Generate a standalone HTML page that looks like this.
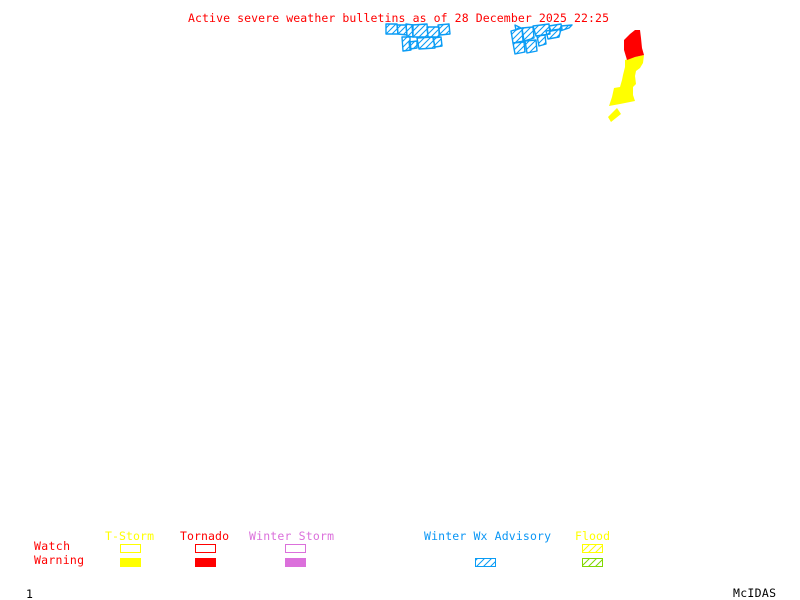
<!DOCTYPE html>
<html>
<head>
<meta charset="utf-8">
<style>
html,body{margin:0;padding:0;background:#fff;width:800px;height:600px;overflow:hidden}
svg{display:block}
text{font-family:"DejaVu Sans Mono","Liberation Mono",monospace;font-size:11.5px}
</style>
</head>
<body>
<svg width="800" height="600" viewBox="0 0 800 600" xmlns="http://www.w3.org/2000/svg">
<defs>
<pattern id="hb" width="6" height="6" patternUnits="userSpaceOnUse"><path d="M-1 7L7 -1M-1 1L1 -1M5 7L7 5" stroke="#0a9cf5" stroke-width="1.1" fill="none"/></pattern>
<pattern id="hl" width="7" height="7" patternUnits="userSpaceOnUse"><path d="M-1 8L8 -1M-1 1L1 -1M6 8L8 6" stroke="#0a9cf5" stroke-width="1" fill="none"/></pattern>
<pattern id="hy" width="7" height="7" patternUnits="userSpaceOnUse"><path d="M-1 8L8 -1M-1 1L1 -1M6 8L8 6" stroke="#ffff00" stroke-width="1" fill="none"/></pattern>
<pattern id="hg" width="7" height="7" patternUnits="userSpaceOnUse"><path d="M-1 8L8 -1M-1 1L1 -1M6 8L8 6" stroke="#80d800" stroke-width="1" fill="none"/></pattern>
</defs>
<rect width="800" height="600" fill="#fff"/>

<text x="188" y="22" fill="#ff0000" textLength="421" lengthAdjust="spacing">Active severe weather bulletins as of 28 December 2025 22:25</text>

<g fill="url(#hb)" stroke="#0a9cf5" stroke-width="1.4" stroke-linejoin="round">
<polygon points="386,24 397,24 398,34 386,34"/>
<polygon points="397,25 406,25 407,35 398,34"/>
<polygon points="406,24 413,25 413,37 407,36"/>
<polygon points="412,25 427,24 428,37 413,37"/>
<polygon points="427,27 439,27 439,37 428,37"/>
<polygon points="438,25 449,24 450,34 440,35"/>
<polygon points="402,37 410,37 410,41 411,50 403,51"/>
<polygon points="409,42 417,41 417,48 410,49"/>
<polygon points="417,38 433,37 435,48 419,49"/>
<polygon points="433,38 441,37 442,46 435,47"/>
<polygon points="515,25 521,28 516,30"/>
<polygon points="511,31 522,28 523,41 513,43"/>
<polygon points="522,28 533,27 534,38 524,41"/>
<polygon points="533,26 549,24 550,34 536,36"/>
<polygon points="549,26 561,24 562,29 551,31"/>
<polygon points="561,26 572,25 569,28 560,31"/>
<polygon points="513,43 524,42 525,52 515,54"/>
<polygon points="525,41 536,40 537,51 527,53"/>
<polygon points="537,36 545,35 546,44 539,46"/>
<polygon points="546,31 561,29 559,37 548,39"/>
</g>

<polygon fill="#ffff00" points="625,60 635,57 644,55 643,63 640,68 636,71 635,76 636,84 633,87 633,95 635,101 620,104 609,106 612,97 614,88 620,87 622,80 623,75 625,67"/>
<polygon fill="#ffff00" points="608,117 615,110 617,108 621,114 611,122"/>
<polygon fill="#ff0000" points="624,40 630,34 635,30 640,30 641,38 642,48 644,55 635,57 627,60 624,50"/>

<text x="105" y="540" fill="#ffff00" textLength="49" lengthAdjust="spacing">T-Storm</text>
<text x="180" y="540" fill="#ff0000" textLength="49" lengthAdjust="spacing">Tornado</text>
<text x="249" y="540" fill="#db70db" textLength="85" lengthAdjust="spacing">Winter Storm</text>
<text x="424" y="540" fill="#0a96f5" textLength="127" lengthAdjust="spacing">Winter Wx Advisory</text>
<text x="575" y="540" fill="#ffff00" textLength="35" lengthAdjust="spacing">Flood</text>
<text x="34" y="550" fill="#ff0000" textLength="36" lengthAdjust="spacing">Watch</text>
<text x="34" y="564" fill="#ff0000" textLength="50" lengthAdjust="spacing">Warning</text>

<g shape-rendering="crispEdges">
<rect x="120.5" y="544.5" width="20" height="8" fill="none" stroke="#ffff00"/>
<rect x="195.5" y="544.5" width="20" height="8" fill="none" stroke="#ff0000"/>
<rect x="285.5" y="544.5" width="20" height="8" fill="none" stroke="#db70db"/>
<rect x="582.5" y="544.5" width="20" height="8" fill="url(#hy)" stroke="#ffff00"/>
<rect x="120" y="558" width="21" height="9" fill="#ffff00"/>
<rect x="195" y="558" width="21" height="9" fill="#ff0000"/>
<rect x="285" y="558" width="21" height="9" fill="#db70db"/>
<rect x="475.5" y="558.5" width="20" height="8" fill="url(#hl)" stroke="#0a9cf5"/>
<rect x="582.5" y="558.5" width="20" height="8" fill="url(#hg)" stroke="#80d800"/>
</g>

<text x="26" y="598" fill="#000">1</text>
<text x="733" y="597" fill="#000" textLength="43" lengthAdjust="spacing">McIDAS</text>
</svg>
</body>
</html>
